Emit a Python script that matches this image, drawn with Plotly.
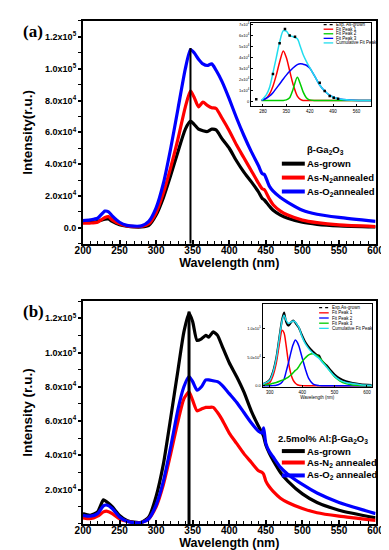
import plotly.graph_objects as go

W, H = 389, 550
def px(x):
    return x / W
def py(y):
    return 1 - y / H

# ---------------- Panel (a): beta-Ga2O3 ----------------
wl_a = [200, 210, 220, 230, 235, 240, 250, 260, 270, 280, 290, 300, 310, 320, 330, 340, 347, 352, 358,
        364, 370, 376, 382, 390, 400, 410, 420, 430, 440, 445, 448, 455, 460, 470, 480, 500, 520, 550, 600]
asgrown_a = [3500, 3500, 4000, 5500, 5500, 4000, 2000, 1000, 500, 500, 1500, 8000, 19000, 33000, 48000, 62000,
             67000, 65000, 62000, 61000, 60500, 62000, 61500, 56000, 50000, 42000, 35000, 29000, 22500, 18500,
             17500, 13500, 11000, 8000, 6000, 3500, 2200, 1200, 500]
n2_a = [3000, 3000, 3500, 6500, 7000, 5000, 2500, 1200, 800, 800, 2500, 9500, 22000, 38000, 56000, 76000,
        86000, 82000, 76000, 79000, 77000, 75500, 75000, 69000, 61000, 52000, 44000, 36000, 28000, 24500,
        24000, 18000, 14500, 10500, 8000, 4800, 3200, 1800, 800]
o2_a = [4500, 5000, 6000, 10500, 10000, 7500, 3500, 1500, 1000, 1200, 4000, 12500, 28000, 50000, 75000, 100000,
        112000, 110000, 106000, 103000, 102000, 103000, 99000, 92000, 81000, 69000, 58000, 48000, 39000, 34000,
        33500, 26000, 23000, 19000, 16000, 11000, 8500, 6500, 4000]
peak_a = 347
peak_a_top = 113000

# inset (a): fit of as-grown (values in units of 1e4)
ins_a_wl = [276, 290, 300, 310, 320, 330, 341, 350, 360, 370, 383, 392, 400, 410, 420, 435, 450, 465, 480,
            500, 520, 545, 605]
ins_a_peak1 = [0.1, 0.3, 0.7, 1.4, 2.4, 3.6, 4.6, 4.0, 2.8, 1.6, 0.5, 0.2, 0.1, 0.1, 0.1, 0.1, 0.1, 0.1, 0.1,
               0.1, 0.1, 0.1, 0.1]
ins_a_peak2 = [0.1, 0.1, 0.1, 0.1, 0.1, 0.1, 0.1, 0.15, 0.35, 1.1, 2.2, 1.6, 0.9, 0.35, 0.15, 0.1, 0.1, 0.1,
               0.1, 0.1, 0.1, 0.1, 0.1]
ins_a_peak3 = [0.1, 0.3, 0.5, 0.8, 1.2, 1.6, 2.05, 2.4, 2.75, 3.05, 3.35, 3.44, 3.4, 3.3, 3.05, 2.3, 1.5, 0.95,
               0.55, 0.3, 0.18, 0.12, 0.1]
ins_a_cum = [0.12, 0.6, 1.3, 2.6, 4.0, 5.4, 6.45, 6.4, 6.0, 5.9, 5.7, 5.0, 4.3, 3.65, 3.1, 2.3, 1.5, 0.95,
             0.55, 0.3, 0.18, 0.12, 0.1]
ins_a_exp_wl = [260, 310, 330, 346, 360, 376, 450, 465, 480, 492, 505]
ins_a_exp = [0.2, 2.5, 5.3, 6.6, 6.0, 5.9, 1.7, 0.95, 0.5, 0.35, 0.25]
ins_a_xticks = [280, 350, 420, 490, 560]
ins_a_yticks = [0, 1, 2, 3, 4, 5, 6, 7]
ins_a_yticktext = ["0"] + [f"{v}x10<sup>4</sup>" for v in range(1, 8)]

# ---------------- Panel (b): 2.5mol% Al:beta-Ga2O3 ----------------
wl_b = [200, 210, 220, 228, 232, 240, 250, 260, 270, 280, 290, 300, 310, 320, 330, 338, 345, 350, 356, 362,
        368, 372, 378, 384, 390, 400, 410, 420, 430, 440, 445, 447, 450, 455, 460, 470, 480, 500, 520, 550, 600]
asgrown_b = [6000, 5000, 7000, 14000, 13000, 10000, 5000, 2000, 1000, 1000, 4000, 16000, 35000, 62000, 90000,
             112000, 123000, 118000, 107000, 108000, 110000, 109000, 112000, 110000, 104000, 94000, 86000, 77000,
             66000, 57000, 53000, 51000, 46000, 41000, 37000, 30000, 25000, 17500, 12500, 8000, 3500]
n2_b = [3500, 3000, 4500, 7000, 7500, 6000, 3000, 1500, 800, 800, 3000, 10000, 23000, 41000, 60000, 73000,
        77000, 72000, 66000, 67000, 68000, 68000, 68000, 65000, 61000, 53000, 47000, 41000, 36000, 31000, 30000,
        29000, 25000, 21500, 19000, 15000, 12500, 9000, 6500, 4500, 2000]
o2_b = [5000, 4500, 6000, 10500, 11000, 9000, 4000, 1500, 700, 800, 3000, 11000, 25000, 45000, 67000, 80000,
        86000, 83000, 78000, 80000, 84000, 84000, 83500, 83000, 81000, 76000, 71000, 65000, 59000, 54000, 53000,
        56000, 47000, 42000, 39000, 33000, 29000, 23000, 18000, 12500, 6000]
peak_b = 345
peak_b_top = 124000

# inset (b): fit of as-grown (values in units of 1e4)
ins_b_wl = [278, 290, 300, 310, 320, 330, 338, 344, 350, 357, 365, 372, 379, 385, 390, 398, 410, 420, 433,
            445, 452, 460, 475, 487, 500, 516, 535, 556, 580, 615]
ins_b_peak1 = [0.1, 0.3, 0.6, 1.8, 4.0, 7.5, 9.7, 9.2, 7.2, 4.3, 2.1, 1.0, 0.45, 0.2, 0.1, 0.05, 0.02, 0.02,
               0.02, 0.02, 0.02, 0.02, 0.02, 0.02, 0.02, 0.02, 0.02, 0.02, 0.02, 0.02]
ins_b_peak2 = [0.02, 0.02, 0.03, 0.05, 0.1, 0.3, 0.7, 1.2, 2.4, 3.9, 5.8, 7.2, 8.0, 7.6, 6.9, 5.3, 2.9, 1.3,
               0.35, 0.1, 0.05, 0.02, 0.02, 0.02, 0.02, 0.02, 0.02, 0.02, 0.02, 0.02]
ins_b_peak3 = [0.1, 0.2, 0.3, 0.45, 0.6, 0.8, 1.0, 1.1, 1.3, 1.55, 1.9, 2.3, 2.7, 3.0, 3.4, 4.1, 4.9, 5.4, 5.6,
               5.3, 5.0, 4.5, 3.4, 2.5, 1.6, 0.9, 0.4, 0.15, 0.07, 0.03]
ins_b_cum = [0.3, 0.6, 1.0, 2.4, 4.8, 8.6, 11.4, 12.3, 11.5, 10.9, 11.1, 11.3, 11.1, 10.6, 10.2, 8.8, 7.3, 6.5,
             5.7, 5.1, 4.8, 4.3, 3.3, 2.5, 1.7, 1.0, 0.6, 0.4, 0.2, 0.1]
ins_b_exp = [0.3, 0.6, 1.1, 2.5, 4.9, 8.7, 11.6, 12.8, 11.2, 10.5, 11.0, 11.4, 11.0, 10.5, 10.1, 9.0, 7.6, 6.8,
             6.0, 5.4, 5.3, 4.4, 3.6, 2.8, 2.0, 1.3, 0.8, 0.5, 0.3, 0.15]
ins_b_xticks = [300, 400, 500, 600]
ins_b_yticks = [0, 5, 10]
ins_b_yticktext = ["0.0", "5.0x10<sup>4</sup>", "1.0x10<sup>5</sup>"]

# ---------------- labels ----------------
main_colors = ["black", "red", "blue"]
names_a = ["As-grown", "As-N<sub>2</sub>annealed", "As-O<sub>2</sub>annealed"]
names_b = ["As-grown", "As-N<sub>2</sub> annealed", "As-O<sub>2</sub> annealed"]
title_a = "β-Ga<sub>2</sub>O<sub>3</sub>"
title_b = "2.5mol% Al:β-Ga<sub>2</sub>O<sub>3</sub>"
ins_a_names = ["Exp. As-grown", "Fit Peak 1", "Fit Peak 2", "Fit Peak 3", "Cumulative Fit Peak"]
ins_a_colors = ["black", "red", "#00cc00", "blue", "#22ddee"]
ins_b_names = ["Exp.As-grown", "Fit Peak 1", "Fit Peak 2", "Fit Peak 3", "Cumulative Fit Peak"]
ins_b_colors = ["black", "red", "blue", "#00cc00", "#22ddee"]

main_yticks_a = [0, 20000, 40000, 60000, 80000, 100000, 120000]
main_yticktext_a = ["0.0", "2.0x10<sup>4</sup>", "4.0x10<sup>4</sup>", "6.0x10<sup>4</sup>",
                    "8.0x10<sup>4</sup>", "1.0x10<sup>5</sup>", "1.2x10<sup>5</sup>"]
main_yticks_b = main_yticks_a[1:]
main_yticktext_b = main_yticktext_a[1:]
main_xticks = [200, 250, 300, 350, 400, 450, 500, 550, 600]

FONT = "Liberation Sans"
bold = dict(family=FONT, color="black", weight="bold")

fig = go.Figure()

# main traces
for ys, c, n in zip([asgrown_a, n2_a, o2_a], main_colors, names_a):
    fig.add_trace(go.Scatter(x=wl_a, y=ys, mode="lines", name=n, showlegend=False,
                             line=dict(color=c, width=3.2, shape="spline", smoothing=0.6),
                             xaxis="x", yaxis="y"))
fig.add_trace(go.Scatter(x=[peak_a, peak_a], y=[-10000, peak_a_top], mode="lines", showlegend=False,
                         line=dict(color="black", width=2), xaxis="x", yaxis="y"))
for ys, c, n in zip([asgrown_b, n2_b, o2_b], main_colors, names_b):
    fig.add_trace(go.Scatter(x=wl_b, y=ys, mode="lines", name=n, showlegend=False,
                             line=dict(color=c, width=3.2, shape="spline", smoothing=0.6),
                             xaxis="x2", yaxis="y2"))
fig.add_trace(go.Scatter(x=[peak_b, peak_b], y=[0, peak_b_top], mode="lines", showlegend=False,
                         line=dict(color="black", width=3), xaxis="x2", yaxis="y2"))

# inset (a)
for ys, c, n in zip([ins_a_peak1, ins_a_peak2, ins_a_peak3, ins_a_cum], ins_a_colors[1:], ins_a_names[1:]):
    fig.add_trace(go.Scatter(x=ins_a_wl, y=ys, mode="lines", name=n, showlegend=False,
                             line=dict(color=c, width=1.5, shape="spline", smoothing=0.8),
                             xaxis="x3", yaxis="y3"))
fig.add_trace(go.Scatter(x=ins_a_exp_wl, y=ins_a_exp, mode="markers", name=ins_a_names[0], showlegend=False,
                         marker=dict(color="black", size=2.5, symbol="square"), xaxis="x3", yaxis="y3"))

# inset (b)
fig.add_trace(go.Scatter(x=ins_b_wl, y=ins_b_exp, mode="lines", name=ins_b_names[0], showlegend=False,
                         line=dict(color="black", width=2, shape="spline", smoothing=0.8),
                         xaxis="x4", yaxis="y4"))
for ys, c, n in zip([ins_b_peak1, ins_b_peak2, ins_b_peak3, ins_b_cum], ins_b_colors[1:], ins_b_names[1:]):
    fig.add_trace(go.Scatter(x=ins_b_wl, y=ys, mode="lines", name=n, showlegend=False,
                             line=dict(color=c, width=1.5, shape="spline", smoothing=0.8),
                             xaxis="x4", yaxis="y4"))

frame = dict(showline=True, mirror=True, linecolor="black", showgrid=False, zeroline=False)

main_x = dict(frame, linewidth=2, range=[200, 600], tickvals=main_xticks, ticks="inside", ticklen=4,
              tickwidth=1.5, tickcolor="black", tickfont=dict(bold, size=10), ticklabelstandoff=-4,
              minor=dict(dtick=10, tick0=200, ticks="inside", ticklen=2.5, tickwidth=1.2, tickcolor="black"),
              title=dict(text="Wavelength (nm)", font=dict(bold, size=12.5), standoff=0))
main_y = dict(frame, linewidth=2, ticks="outside", ticklen=3, tickwidth=1.5, tickcolor="black",
              tickfont=dict(bold, size=9),
              minor=dict(tickmode="linear", tick0=0, dtick=10000, ticks="outside", ticklen=2.5,
                         tickwidth=1.2, tickcolor="black"))

ins_x = dict(frame, linewidth=1.2, ticks="inside", ticklen=2, tickwidth=0.8, tickcolor="black",
             tickfont=dict(family=FONT, size=4.5, color="black"), ticklabelstandoff=0)
ins_y = dict(frame, linewidth=1.2, ticks="inside", ticklen=2, tickwidth=0.8, tickcolor="black",
             tickfont=dict(family=FONT, size=4, color="black"))

fig.update_layout(
    width=W, height=H, margin=dict(l=0, r=0, t=0, b=0),
    paper_bgcolor="white", plot_bgcolor="white", showlegend=False,
    xaxis=dict(main_x, domain=[px(70), px(376)], anchor="y"),
    yaxis=dict(main_y, domain=[py(235), py(11)], anchor="x", range=[-10000, 130000],
               tickvals=main_yticks_a, ticktext=main_yticktext_a,
               title=dict(text="Intensity(r.u.)", font=dict(bold, size=13.5), standoff=9)),
    xaxis2=dict(main_x, domain=[px(70), px(376)], anchor="y2"),
    yaxis2=dict(main_y, domain=[py(516.7), py(292.7)], anchor="x2", range=[0, 130000],
                tickvals=main_yticks_b, ticktext=main_yticktext_b,
                title=dict(text="Intensity (r.u.)", font=dict(bold, size=13.5), standoff=9)),
    xaxis3=dict(ins_x, domain=[px(246), px(371.7)], anchor="y3", range=[245, 605], tickvals=ins_a_xticks),
    yaxis3=dict(ins_y, domain=[py(97), py(13)], anchor="x3", range=[-0.45, 7.15],
                tickvals=ins_a_yticks, ticktext=ins_a_yticktext),
    xaxis4=dict(ins_x, domain=[px(258), px(372)], anchor="y4", range=[278, 615], tickvals=ins_b_xticks,
                title=dict(text="Wavelength (nm)", font=dict(family=FONT, size=4.5, color="black"), standoff=1)),
    yaxis4=dict(ins_y, domain=[py(379.3), py(296)], anchor="x4", range=[-0.23, 14.2],
                tickvals=ins_b_yticks, ticktext=ins_b_yticktext),
)

shapes = []
annotations = []

# panel labels
annotations.append(dict(text="<b>(a)</b>", x=px(5), y=py(22), xref="paper", yref="paper", xanchor="left",
                        yanchor="middle", showarrow=False,
                        font=dict(family="Liberation Serif", size=17, color="black")))
annotations.append(dict(text="<b>(b)</b>", x=px(5), y=py(303), xref="paper", yref="paper", xanchor="left",
                        yanchor="middle", showarrow=False,
                        font=dict(family="Liberation Serif", size=17, color="black")))

# main legends (drawn as keys + text)
def main_legend(title, names, title_x, title_y, rows):
    annotations.append(dict(text=title, x=px(title_x), y=py(title_y), xref="paper", yref="paper",
                            xanchor="center", yanchor="middle", showarrow=False, font=dict(bold, size=9.5)))
    for n, c, yy in zip(names, main_colors, rows):
        shapes.append(dict(type="line", xref="paper", yref="paper", x0=px(278), x1=px(302),
                           y0=py(yy), y1=py(yy), line=dict(color=c, width=4)))
        annotations.append(dict(text=n, x=px(302.5), y=py(yy), xref="paper", yref="paper", xanchor="left",
                                yanchor="middle", showarrow=False, font=dict(bold, size=9.5)))

main_legend(title_a, names_a, 324, 141, [154.5, 168.5, 182.5])
main_legend(title_b, names_b, 321, 431.5, [443.5, 455, 468])

# inset legends
def inset_legend(names, colors, x0, x1, row0, step):
    for i, (n, c) in enumerate(zip(names, colors)):
        yy = row0 + i * step
        shapes.append(dict(type="line", xref="paper", yref="paper", x0=px(x0), x1=px(x1),
                           y0=py(yy), y1=py(yy),
                           line=dict(color=c, width=1.3, dash="dot" if i == 0 else "solid")))
        annotations.append(dict(text=n, x=px(x1 + 1), y=py(yy), xref="paper", yref="paper", xanchor="left",
                                yanchor="middle", showarrow=False,
                                font=dict(family=FONT, size=4.5, color="black")))

inset_legend(ins_a_names, ins_a_colors, 321.7, 331.7, 14.7, 4.6)
inset_legend(ins_b_names, ins_b_colors, 317, 327, 299.3, 5.2)

fig.update_layout(shapes=shapes, annotations=annotations)

fig.write_html("out.html")
